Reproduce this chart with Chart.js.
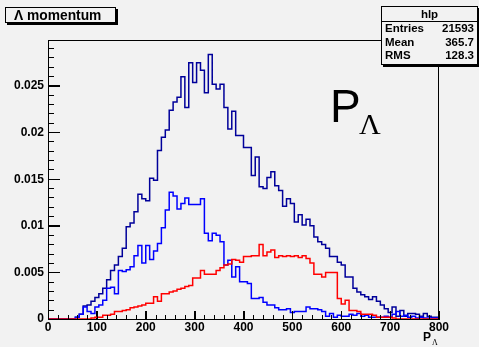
<!DOCTYPE html>
<html>
<head>
<meta charset="utf-8">
<script src="https://cdn.jsdelivr.net/npm/chart.js@4.4.1/dist/chart.umd.min.js"></script>
<style>
  html, body { margin: 0; padding: 0; background: #f2f2f2; }
  #wrap { position: relative; width: 479px; height: 347px; overflow: hidden; background: #f2f2f2; }
  #c { position: absolute; left: 0; top: 0; }
  .frame { position: absolute; z-index: 10; left: 48px; top: 40px; width: 391px; height: 280px;
           border: 1px solid #000; box-sizing: border-box; pointer-events: none; }
  .tx { position: absolute; z-index: 10; left: 48px; width: 391px; pointer-events: none; }
  .tx.major { top: 311px; height: 8px; background: repeating-linear-gradient(to right, #000 0px, #000 1px, transparent 1px, transparent 48.875px); }
  .tx.minor { top: 315px; height: 4px; background: repeating-linear-gradient(to right, #000 0px, #000 1px, transparent 1px, transparent 9.775px); }
  .ty { position: absolute; z-index: 10; left: 48px; top: 40px; height: 280px; pointer-events: none; }
  .ty.major { width: 12px; background: repeating-linear-gradient(to top, #000 0px, #000 1px, transparent 1px, transparent 46.74px); }
  .ty.minor { width: 6px; background: repeating-linear-gradient(to top, #000 0px, #000 1px, transparent 1px, transparent 9.349px); }
  .box { position: absolute; z-index: 11; background: #f2f2f2; border: 1px solid #000; box-shadow: 2px 2px 0 #000;
         font-family: "Liberation Sans", Arial, sans-serif; font-weight: bold; color: #000; }
  #title { left: 5px; top: 7px; height: 16px; font-size: 13.8px; line-height: 16px; padding-left: 8px; box-sizing: border-box; width: 111px; }
  #stats { left: 381px; top: 6px; width: 95px; height: 57px; font-size: 11.5px; }
  #stats .hdr { height: 14px; line-height: 14px; text-align: center; border-bottom: 1px solid #000; }
  #stats .row { position: relative; height: 13.5px; line-height: 13.5px; }
  #stats .row span.l { position: absolute; left: 3px; }
  #stats .row span.r { position: absolute; right: 3px; }
  .lbl { position: absolute; z-index: 11; color: #000; white-space: nowrap; }
</style>
</head>
<body>
<div id="wrap">
  <canvas id="c" width="479" height="347"></canvas>
  <div class="frame"></div>
  <div class="tx major"></div>
  <div class="tx minor"></div>
  <div class="ty major"></div>
  <div class="ty minor"></div>
  <div class="box" id="title">Λ momentum</div>
  <div class="box" id="stats">
    <div class="hdr">hlp</div>
    <div class="row"><span class="l">Entries</span><span class="r">21593</span></div>
    <div class="row"><span class="l">Mean</span><span class="r">365.7</span></div>
    <div class="row"><span class="l">RMS</span><span class="r">128.3</span></div>
  </div>
  <div class="lbl" style="left:330px; top:83px; font: 46px 'Liberation Sans', Arial, sans-serif; line-height:46px;">P</div>
  <div class="lbl" style="left:359px; top:109px; font: 30px 'Liberation Serif', 'Times New Roman', serif; line-height:30px;">Λ</div>
  <div class="lbl" style="left:423px; top:331px; font: bold 12px 'Liberation Sans', Arial, sans-serif; line-height:12px;">P</div>
  <div class="lbl" style="left:432px; top:339px; font: 8px 'Liberation Serif', serif; line-height:8px;">Λ</div>
</div>
<script>
// Histogram: 100 bins of width 8 from 0 to 800
const BIN_WIDTH = 8;
const X_MIN = 0, X_MAX = 800;
const Y_MAX = 0.02995;

const X_TICKS = [0, 100, 200, 300, 400, 500, 600, 700, 800];
const X_TICK_LABELS = ["0", "100", "200", "300", "400", "500", "600", "700", "800"];
const Y_TICKS = [0, 0.005, 0.01, 0.015, 0.02, 0.025];
const Y_TICK_LABELS = ["0", "0.005", "0.01", "0.015", "0.02", "0.025"];

// dark blue: all
const hAll = [
  0, 0, 0, 0, 0, 0, 0, 0, 0.0002, 0.0005,
  0.0014, 0.0015, 0.0019, 0.0023, 0.0027, 0.0033, 0.0042, 0.0052, 0.0058, 0.0067,
  0.0076, 0.0099, 0.0103, 0.0115, 0.0134, 0.0129, 0.0127, 0.0151, 0.0149, 0.0181,
  0.0195, 0.0203, 0.0224, 0.0233, 0.0238, 0.0260, 0.0227, 0.0275, 0.0254, 0.0275,
  0.0267, 0.0243, 0.0284, 0.0252, 0.0247, 0.0252, 0.0227, 0.0204, 0.0223, 0.0197,
  0.0197, 0.0184, 0.0184, 0.0154, 0.0174, 0.0142, 0.0140, 0.0152, 0.0158, 0.0143,
  0.0138, 0.0121, 0.0129, 0.0124, 0.0104, 0.0112, 0.0101, 0.0107, 0.0100, 0.0088,
  0.0083, 0.0080, 0.0076, 0.0067, 0.0067, 0.0061, 0.0058, 0.0045, 0.0045, 0.0033,
  0.0029, 0.0026, 0.0024, 0.0021, 0.0024, 0.0019, 0.0015, 0.0011, 0.0007, 0.0013,
  0.0003, 0.0009, 0.0003, 0.0006, 0.0006, 0.0005, 0.0003, 0.0006, 0.0003, 0.0002
];

// light blue
const hLow = [
  0, 0, 0, 0, 0, 0, 0, 0, 0.0002, 0.0005,
  0.0013, 0.0008, 0.0006, 0.0013, 0.0015, 0.0020, 0.0033, 0.0034, 0.0027, 0.0052,
  0.0051, 0.0053, 0.0056, 0.0068, 0.0079, 0.0060, 0.0079, 0.0064, 0.0073, 0.0081,
  0.0098, 0.0117, 0.0136, 0.0132, 0.0118, 0.0124, 0.0130, 0.0123, 0.0123, 0.0123,
  0.0129, 0.0092, 0.0084, 0.0092, 0.0090, 0.0083, 0.0058, 0.0063, 0.0045, 0.0056,
  0.0040, 0.0040, 0.0038, 0.0022, 0.0022, 0.0023, 0.0018, 0.0015, 0.0015, 0.0012,
  0.0010, 0.0010, 0.0011, 0.0007, 0.0008, 0.0008, 0.0008, 0.0013, 0.0011, 0.0011,
  0.0010, 0.0008, 0.0003, 0.0006, 0.0002, 0.0004, 0.0003, 0.0003, 0.0005, 0.0004,
  0.0006, 0.0003, 0.0004, 0.0002, 0.0002, 0.0002, 0.0002, 0.0003, 0.0002, 0.0005,
  0.0008, 0.0003, 0.0004, 0.0002, 0.0003, 0.0001, 0.0002, 0.0001, 0.0001, 0.0001
];

// red
const hHigh = [
  0, 0, 0, 0, 0, 0, 0, 0, 0, 0,
  0, 0, 0.0001, 0.0002, 0.0002, 0.0004, 0.0004, 0.0005, 0.0008, 0.0008,
  0.0009, 0.0010, 0.0012, 0.0013, 0.0014, 0.0015, 0.0017, 0.0017, 0.0024, 0.0019,
  0.0027, 0.0027, 0.0029, 0.0030, 0.0032, 0.0033, 0.0035, 0.0036, 0.0044, 0.0044,
  0.0052, 0.0048, 0.0048, 0.0048, 0.0052, 0.0055, 0.0058, 0.0059, 0.0064, 0.0063,
  0.0061, 0.0067, 0.0067, 0.0068, 0.0068, 0.0080, 0.0068, 0.0072, 0.0074, 0.0066,
  0.0068, 0.0067, 0.0068, 0.0067, 0.0068, 0.0066, 0.0068, 0.0065, 0.0060, 0.0048,
  0.0048, 0.0045, 0.0050, 0.0050, 0.0050, 0.0022, 0.0016, 0.0020, 0.0009, 0.0009,
  0.0008, 0.0005, 0.0005, 0.0005, 0.0004, 0.0002, 0.0002, 0.0002, 0.0002, 0.0001,
  0, 0, 0, 0, 0, 0, 0, 0, 0, 0
];

function toSteps(vals) {
  const pts = vals.map((v, i) => ({ x: X_MIN + i * BIN_WIDTH, y: v }));
  pts.push({ x: X_MAX, y: vals[vals.length - 1] });
  return pts;
}

const FONT = { family: "'Liberation Sans', Arial, sans-serif", size: 12, weight: 'bold' };
const BLACK = '#000000';

new Chart(document.getElementById('c'), {
  type: 'line',
  data: {
    datasets: [
      { label: 'high', data: toSteps(hHigh), borderColor: '#ff0000', order: 0 },
      { label: 'low', data: toSteps(hLow), borderColor: '#0000ff', order: 1 },
      { label: 'all', data: toSteps(hAll), borderColor: '#00009a', order: 2 }
    ]
  },
  options: {
    responsive: false,
    animation: false,
    devicePixelRatio: 1,
    layout: { padding: { top: 40, right: 40, left: 0, bottom: 0 } },
    elements: {
      line: { stepped: 'after', borderWidth: 1.5, tension: 0, fill: false },
      point: { radius: 0 }
    },
    plugins: { legend: { display: false }, title: { display: false }, tooltip: { enabled: false } },
    scales: {
      x: {
        type: 'linear', position: 'bottom', min: X_MIN, max: X_MAX,
        grid: { display: true, drawOnChartArea: false, drawTicks: true, tickLength: -8, tickColor: BLACK, tickWidth: 1 },
        border: { display: true, color: BLACK, width: 1 },
        afterBuildTicks: s => { s.ticks = X_TICKS.map(v => ({ value: v })); },
        afterFit: s => { s.height = 28; },
        ticks: { color: BLACK, font: FONT, padding: 9, maxRotation: 0, autoSkip: false,
                 callback: (v) => { const i = X_TICKS.indexOf(v); return i >= 0 ? X_TICK_LABELS[i] : ''; } }
      },
      y: {
        type: 'linear', position: 'left', min: 0, max: Y_MAX,
        grid: { display: true, drawOnChartArea: false, drawTicks: true, tickLength: -12, tickColor: BLACK, tickWidth: 1 },
        border: { display: true, color: BLACK, width: 1 },
        afterBuildTicks: s => { s.ticks = Y_TICKS.map(v => ({ value: v })); },
        afterFit: s => { s.width = 48; },
        ticks: { color: BLACK, font: FONT, padding: 16, autoSkip: false,
                 callback: (v) => { const i = Y_TICKS.findIndex(t => Math.abs(t - v) < 1e-9); return i >= 0 ? Y_TICK_LABELS[i] : ''; } }
      }
    }
  }
});
</script>
</body>
</html>
